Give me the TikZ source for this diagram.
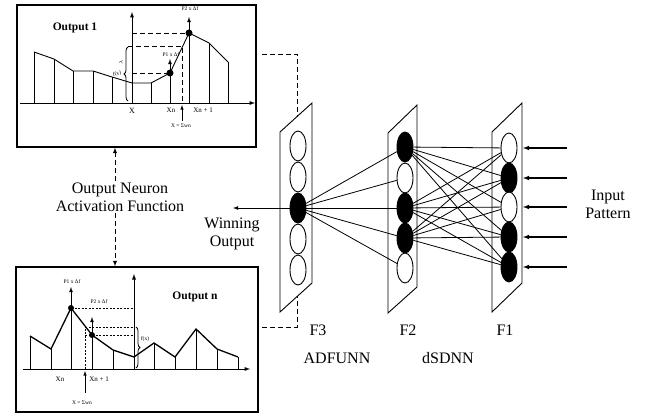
\documentclass[tikz,border=0pt]{standalone}
\usepackage{fontspec}
\setmainfont{Liberation Serif}
\usetikzlibrary{arrows,shapes.geometric,decorations.pathreplacing}
\tikzset{
    neuron/.style={ellipse,draw=black,line width=0.9pt,minimum width=16pt,minimum height=30pt,inner sep=0pt},
    panel/.style={draw=black,fill=white,line width=0.9pt},
    plotbox/.style={draw=black,line width=1.3pt,inner sep=0pt},
    link/.style={line width=0.8pt},
    guide/.style={line width=0.9pt,dash pattern=on 5pt off 3pt},
    fine/.style={line width=0.6pt,dash pattern=on 2pt off 1.5pt},
    txt/.style={font=\fontsize{16}{18}\selectfont,align=center,inner sep=1pt},
    mini/.style={font=\fontsize{5.5}{6}\selectfont,inner sep=0pt},
    axlab/.style={font=\fontsize{7}{8}\selectfont,inner sep=0pt},
}

\begin{document}
\begin{tikzpicture}[x=1pt,y=-1pt]
\useasboundingbox (0,0) rectangle (652,414);

        \node[plotbox,minimum width=239pt,minimum height=142pt] (out1) at (136.5,76) {};
        \node[plotbox,minimum width=242pt,minimum height=145pt] (outn) at (137,339.5) {};
        \node[font=\fontsize{11.5}{12}\selectfont\bfseries] (title1) at (75,28) {Output 1};
        \node[font=\fontsize{11.5}{12}\selectfont\bfseries] (titlen) at (195,297) {Output n};


        \draw[line width=0.9pt,-latex] (20,103) -- (255,103);
        \draw[line width=0.9pt,-latex] (132,103) -- (132,12);
        \foreach \x/\y in {34/52,54/59,73/71,93/71,112/77,151/83,170/73,189/33,209/43,228/62}
            \draw[line width=0.8pt] (\x,103) -- (\x,\y);
        \draw[line width=0.9pt] plot coordinates {(34,52) (54,59) (73,71) (93,71) (112,77) (132,83) (151,83) (170,73) (189,33) (209,43) (228,62)};
        \draw[guide] (132,33) -- (189,33);
        \draw[guide] (128,46) -- (182,46) -- (182,103);
        \draw[guide] (132,73) -- (170,73);
        \draw[line width=0.8pt,decorate,decoration={brace,amplitude=4pt}] (128,101) -- (128,47);
        \draw[line width=0.8pt,-latex] (170,73) -- (170,59);
        \draw[line width=0.8pt,-latex] (189,33) -- (189,17);
        \fill (170,73) circle (3.5pt);
        \fill (189,33) circle (3.5pt);
        \node[mini] at (171,55) {P1 x Δf};
        \node[mini] at (190,9) {P2 x Δf};
        \node[mini,rotate=90] at (121,62) {$\lambda$};
        \node[mini,rotate=15] at (117,74) {f(x)};
        \node[font=\fontsize{8}{9}\selectfont,inner sep=0pt] at (132,111) {X};
        \node[axlab] at (171,110) {Xn};
        \node[axlab] at (203,110) {Xn + 1};
        \draw[line width=0.6pt,-latex] (182,121) -- (182,105);
        \node[mini] at (181,126) {X = Σwn};


        \draw[line width=0.9pt,-latex] (23,369) -- (250,369);
        \draw[line width=0.9pt,-latex] (134,369) -- (134,274);
        \foreach \x/\y in {30/336,51/349,113/350,154/343,175/357,196/329,217/349,238/357}
            \draw[line width=0.8pt] (\x,369) -- (\x,\y);
        \draw[line width=1.3pt] plot coordinates {(30,336) (51,349) (71,308) (92,335) (113,350) (134,357) (154,343) (175,357) (196,329) (217,349) (238,357)};
        \draw[line width=0.8pt,-latex] (71,369) -- (71,287);
        \draw[line width=0.8pt,-latex] (92,369) -- (92,317);
        \fill (71,308) circle (3pt);
        \fill (92,335) circle (3pt);
        \draw[fine] (71,308) -- (134,308);
        \draw[fine] (85,369) -- (85,327) -- (134,327);
        \draw[fine] (85,335) -- (134,335);
        \draw[line width=0.8pt,decorate,decoration={brace,amplitude=4pt}] (136,327) -- (136,368);
        \node[mini] at (72,282) {P1 x Δf};
        \node[mini] at (99,302) {P2 x Δf};
        \node[mini] at (145,339) {f(x)};
        \node[axlab] at (60,379) {Xn};
        \node[axlab] at (99,379) {Xn + 1};
        \draw[line width=0.6pt,-latex] (85,393) -- (85,371);
        \node[mini] at (82,403) {X = Σwn};


        \coordinate (top3) at (262,54);
        \coordinate (bot3) at (262,327);
        \draw[guide] (top3) -- (297,54) -- (297,130);
        \draw[guide] (bot3) -- (297,327) -- (297,290);

        \draw[panel] (280,132) -- (312,103) -- (312,283) -- (280,312) -- cycle;
        \draw[panel] (388,133) -- (417,105) -- (417,287) -- (388,313) -- cycle;
        \draw[panel] (492,132) -- (522,103) -- (522,283) -- (492,312) -- cycle;

        \foreach \i/\y/\c in {1/146/white,2/177/white,3/208/black,4/239/white,5/270/white}
            \node[neuron,fill=\c] (f3-\i) at (298,\y) {};
        \foreach \i/\y/\c in {1/147/black,2/178/white,3/208/black,4/238/black,5/268/white}
            \node[neuron,fill=\c] (f2-\i) at (405,\y) {};
        \foreach \i/\y/\c in {1/148/white,2/178/black,3/207/white,4/237/black,5/267/black}
            \node[neuron,fill=\c] (f1-\i) at (509,\y) {};

        \foreach \j in {1,...,5}
            \draw[link] (f3-3) -- (f2-\j);
        \foreach \i in {1,3,4} {
            \foreach \j in {1,...,5}
                \draw[link] (f2-\i) -- (f1-\j);
        }

        \coordinate (win) at (233,208);
        \draw[link,-latex] (f3-3) -- (win);
        \node[txt] (wintxt) at (232,234) {Winning\\Output};

        \foreach \i/\y in {1/148,2/178,3/207,4/237,5/267} {
            \coordinate (in\i) at (567,\y);
            \coordinate (tip\i) at (523,\y);
            \draw[line width=1.1pt,-latex] (in\i) -- (tip\i);
        }
        \node[txt] (input) at (608,204) {Input\\Pattern};

        \node[txt] (act) at (120,197) {Output Neuron\\Activation Function};
        \draw[guide,-latex] ([xshift=-5pt]act.north) -- ([xshift=-5pt]act.north |- out1.south);
        \draw[guide,-latex] ([xshift=-5pt]act.south) -- ([xshift=-5pt]act.south |- outn.north);

        \node[txt] (lf3) at (318,330) {F3};
        \node[txt] (lf2) at (408,330) {F2};
        \node[txt] (lf1) at (505,330) {F1};
        \node[txt] (adf) at (337,358) {ADFUNN};
        \node[txt] (dsd) at (448,358) {dSDNN};
\end{tikzpicture}
\end{document}
